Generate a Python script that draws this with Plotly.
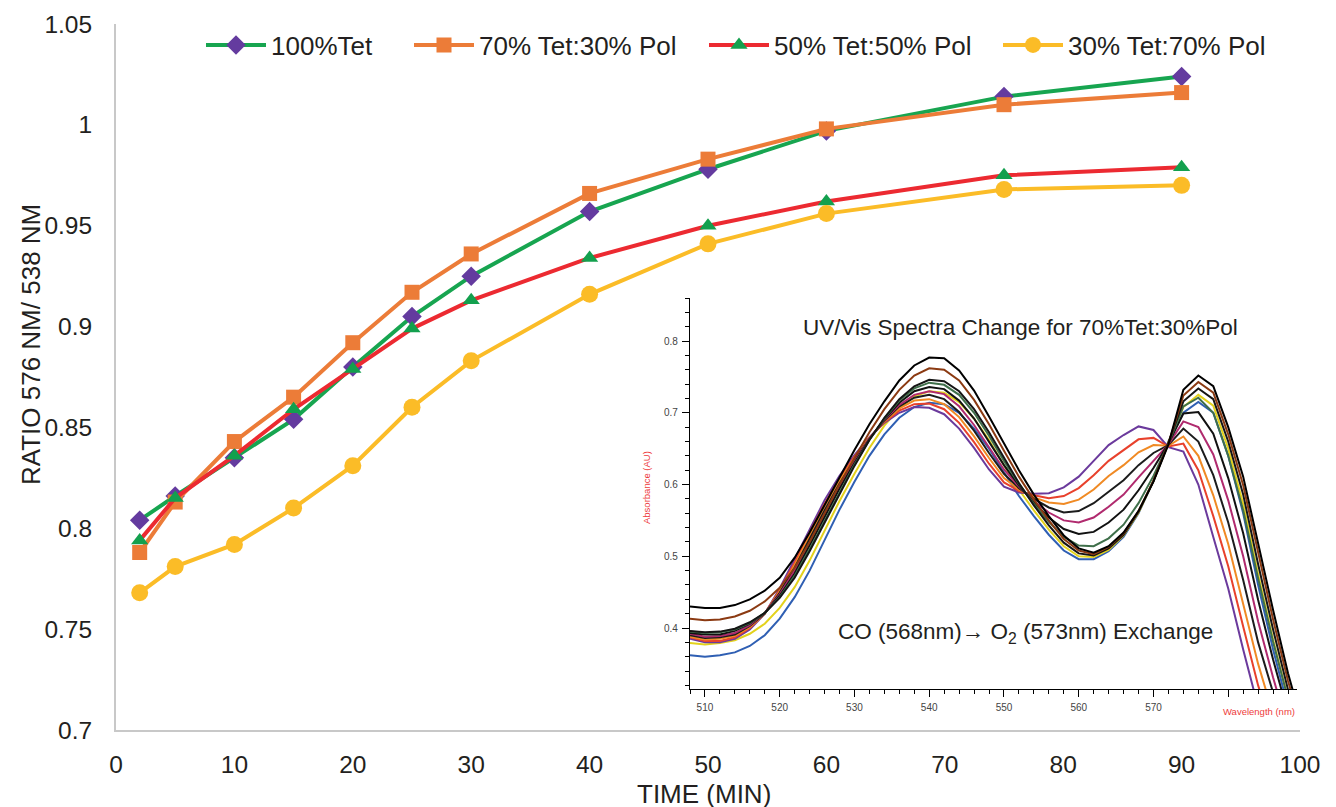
import plotly.graph_objects as go

# main chart: ratio 576/538 vs time
time_min = [2, 5, 10, 15, 20, 25, 30, 40, 50, 60, 75, 90]
tet100 = [0.804, 0.816, 0.835, 0.854, 0.880, 0.905, 0.925, 0.957, 0.978, 0.997, 1.014, 1.024]
tet70_pol30 = [0.788, 0.813, 0.843, 0.865, 0.892, 0.917, 0.936, 0.966, 0.983, 0.998, 1.010, 1.016]
tet50_pol50 = [0.794, 0.815, 0.836, 0.859, 0.879, 0.899, 0.913, 0.934, 0.950, 0.962, 0.975, 0.979]
tet30_pol70 = [0.768, 0.781, 0.792, 0.810, 0.831, 0.860, 0.883, 0.916, 0.941, 0.956, 0.968, 0.970]

x_ticks = [0, 10, 20, 30, 40, 50, 60, 70, 80, 90, 100]
y_ticks = [0.7, 0.75, 0.8, 0.85, 0.9, 0.95, 1.0, 1.05]
y_tick_text = ['0.7', '0.75', '0.8', '0.85', '0.9', '0.95', '1', '1.05']

# inset: UV/Vis spectra (absorbance vs wavelength)
wavelength = [508, 510, 512, 514, 516, 518, 520, 522, 524, 526, 528, 530, 532, 534,
              536, 538, 540, 542, 544, 546, 548, 550, 552, 554, 556, 558, 560, 562,
              564, 566, 568, 570, 572, 574, 576, 578, 580, 582, 584, 586, 588, 590]

spec_01 = [0.362, 0.360, 0.362, 0.366, 0.375, 0.390, 0.413, 0.443, 0.480, 0.522,
           0.565, 0.604, 0.640, 0.670, 0.693, 0.708, 0.714, 0.712, 0.700, 0.678,
           0.650, 0.617, 0.584, 0.556, 0.530, 0.508, 0.496, 0.496, 0.507, 0.527,
           0.560, 0.605, 0.660, 0.700, 0.715, 0.700, 0.640, 0.560, 0.460, 0.370,
           0.290, 0.230]
spec_02 = [0.379, 0.377, 0.379, 0.383, 0.392, 0.406, 0.428, 0.457, 0.494, 0.535,
           0.577, 0.615, 0.651, 0.682, 0.706, 0.723, 0.730, 0.728, 0.715, 0.692,
           0.662, 0.627, 0.593, 0.564, 0.537, 0.514, 0.500, 0.499, 0.509, 0.529,
           0.561, 0.605, 0.659, 0.708, 0.725, 0.710, 0.650, 0.573, 0.475, 0.384,
           0.302, 0.238]
spec_03 = [0.385, 0.380, 0.380, 0.385, 0.398, 0.420, 0.455, 0.495, 0.537, 0.578,
           0.612, 0.641, 0.666, 0.686, 0.700, 0.708, 0.707, 0.698, 0.678, 0.651,
           0.621, 0.597, 0.589, 0.587, 0.588, 0.596, 0.611, 0.633, 0.655, 0.669,
           0.681, 0.676, 0.652, 0.646, 0.600, 0.527, 0.455, 0.370, 0.290, 0.230,
           0.180, 0.140]
spec_04 = [0.387, 0.382, 0.382, 0.387, 0.400, 0.420, 0.453, 0.491, 0.533, 0.573,
           0.608, 0.639, 0.665, 0.687, 0.703, 0.712, 0.713, 0.705, 0.686, 0.659,
           0.629, 0.603, 0.591, 0.585, 0.581, 0.584, 0.595, 0.613, 0.633, 0.648,
           0.663, 0.665, 0.653, 0.657, 0.620, 0.556, 0.486, 0.402, 0.320, 0.255,
           0.200, 0.156]
spec_05 = [0.388, 0.384, 0.385, 0.389, 0.401, 0.420, 0.451, 0.488, 0.528, 0.569,
           0.605, 0.637, 0.665, 0.688, 0.706, 0.717, 0.719, 0.712, 0.694, 0.667,
           0.637, 0.609, 0.593, 0.582, 0.575, 0.573, 0.579, 0.593, 0.612, 0.627,
           0.645, 0.655, 0.654, 0.667, 0.640, 0.585, 0.517, 0.435, 0.350, 0.280,
           0.220, 0.172]
spec_06 = [0.390, 0.386, 0.387, 0.391, 0.403, 0.420, 0.449, 0.484, 0.524, 0.564,
           0.601, 0.634, 0.664, 0.689, 0.709, 0.721, 0.725, 0.719, 0.701, 0.675,
           0.644, 0.615, 0.595, 0.580, 0.568, 0.561, 0.563, 0.574, 0.590, 0.606,
           0.627, 0.644, 0.655, 0.678, 0.660, 0.613, 0.547, 0.467, 0.380, 0.306,
           0.240, 0.188]
spec_07 = [0.392, 0.388, 0.389, 0.393, 0.404, 0.421, 0.447, 0.480, 0.519, 0.559,
           0.598, 0.632, 0.664, 0.690, 0.711, 0.725, 0.730, 0.726, 0.709, 0.683,
           0.652, 0.621, 0.597, 0.577, 0.561, 0.550, 0.547, 0.554, 0.569, 0.586,
           0.610, 0.633, 0.656, 0.688, 0.680, 0.642, 0.578, 0.500, 0.409, 0.331,
           0.260, 0.204]
spec_08 = [0.393, 0.391, 0.391, 0.396, 0.406, 0.421, 0.445, 0.476, 0.515, 0.555,
           0.594, 0.630, 0.663, 0.691, 0.714, 0.730, 0.736, 0.733, 0.717, 0.692,
           0.660, 0.627, 0.599, 0.575, 0.554, 0.538, 0.531, 0.534, 0.547, 0.565,
           0.592, 0.623, 0.657, 0.699, 0.701, 0.671, 0.609, 0.532, 0.439, 0.356,
           0.281, 0.220]
spec_09 = [0.395, 0.393, 0.394, 0.398, 0.407, 0.421, 0.443, 0.473, 0.510, 0.550,
           0.590, 0.628, 0.662, 0.692, 0.717, 0.734, 0.742, 0.739, 0.725, 0.700,
           0.668, 0.633, 0.601, 0.573, 0.548, 0.527, 0.515, 0.514, 0.525, 0.544,
           0.574, 0.612, 0.657, 0.709, 0.721, 0.700, 0.640, 0.564, 0.469, 0.381,
           0.301, 0.235]
spec_10 = [0.396, 0.394, 0.395, 0.399, 0.408, 0.421, 0.442, 0.470, 0.507, 0.547,
           0.588, 0.626, 0.662, 0.693, 0.719, 0.737, 0.746, 0.744, 0.730, 0.705,
           0.673, 0.637, 0.602, 0.571, 0.543, 0.519, 0.504, 0.501, 0.511, 0.530,
           0.562, 0.605, 0.658, 0.716, 0.734, 0.719, 0.660, 0.586, 0.489, 0.398,
           0.314, 0.246]
spec_11 = [0.413, 0.411, 0.412, 0.416, 0.424, 0.437, 0.456, 0.484, 0.520, 0.560,
           0.600, 0.637, 0.673, 0.705, 0.732, 0.752, 0.762, 0.760, 0.745, 0.718,
           0.684, 0.647, 0.611, 0.579, 0.550, 0.524, 0.508, 0.503, 0.513, 0.532,
           0.563, 0.605, 0.657, 0.724, 0.743, 0.728, 0.670, 0.599, 0.504, 0.412,
           0.326, 0.254]
spec_12 = [0.430, 0.428, 0.428, 0.432, 0.440, 0.452, 0.470, 0.498, 0.533, 0.572,
           0.611, 0.648, 0.684, 0.716, 0.745, 0.766, 0.777, 0.776, 0.759, 0.731,
           0.695, 0.657, 0.620, 0.586, 0.556, 0.529, 0.511, 0.505, 0.514, 0.533,
           0.563, 0.604, 0.656, 0.732, 0.752, 0.737, 0.680, 0.611, 0.518, 0.425,
           0.337, 0.262]

spectra = [spec_01, spec_02, spec_03, spec_04, spec_05, spec_06,
           spec_07, spec_08, spec_09, spec_10, spec_11, spec_12]
spec_colors = ['#2f5fb3', '#e3d21c', '#6b3a9c', '#e8412c', '#f08a24', '#1c1c1c',
               '#b02a6e', '#111111', '#3f6f4a', '#151515', '#8b3a12', '#000000']

inset_x_ticks = [510, 520, 530, 540, 550, 560, 570, 580]
inset_x_text = ['510', '520', '530', '540', '550', '560', '570', ' ']
inset_y_ticks = [0.4, 0.5, 0.6, 0.7, 0.8]

FONT = 'Liberation Sans, Arial, sans-serif'
TXT = '#231f20'


def px_x(p):
    # screen pixel -> paper fraction of the main plot area
    return (p - 116) / 1184


def px_y(p):
    return (730 - p) / 706


fig = go.Figure()

# spectra in the inset
for ys, col in zip(spectra, spec_colors):
    fig.add_trace(go.Scatter(
        x=wavelength, y=ys, xaxis='x2', yaxis='y2',
        mode='lines', line=dict(color=col, width=2),
        showlegend=False, hoverinfo='skip'
    ))

# main series, each in its own legend so entries sit where the original has them
fig.add_trace(go.Scatter(
    x=time_min, y=tet100, name='100%Tet', mode='lines+markers', legend='legend',
    line=dict(color='#17a550', width=4),
    marker=dict(symbol='diamond', size=15, color='#643b9f')
))
fig.add_trace(go.Scatter(
    x=time_min, y=tet70_pol30, name='70% Tet:30% Pol', mode='lines+markers', legend='legend2',
    line=dict(color='#ec7c38', width=4),
    marker=dict(symbol='square', size=15, color='#ec7c38')
))
fig.add_trace(go.Scatter(
    x=time_min, y=tet50_pol50, name='50% Tet:50% Pol', mode='lines+markers', legend='legend3',
    line=dict(color='#ec2a31', width=4),
    marker=dict(symbol='triangle-up', size=15, color='#13a04e')
))
fig.add_trace(go.Scatter(
    x=time_min, y=tet30_pol70, name='30% Tet:70% Pol', mode='lines+markers', legend='legend4',
    line=dict(color='#fbbc27', width=4),
    marker=dict(symbol='circle', size=17, color='#fbbc27')
))

annots = [
    dict(x=px_x(704), y=px_y(794), text='TIME (MIN)', font=dict(size=26, color=TXT)),
    dict(x=px_x(31), y=px_y(345), text='RATIO 576 NM/ 538 NM', textangle=-90,
         font=dict(size=26, color=TXT)),
    dict(x=px_x(1020), y=px_y(327), text='UV/Vis Spectra Change for 70%Tet:30%Pol',
         font=dict(size=22.5, color=TXT)),
    dict(x=px_x(1025), y=px_y(633), text='CO (568nm)\u2192 O<sub>2</sub> (573nm) Exchange',
         font=dict(size=22.5, color=TXT)),
    dict(x=px_x(646), y=px_y(488), text='Absorbance (AU)', textangle=-90,
         font=dict(size=9.5, color='#ee3b3b')),
    dict(x=px_x(1259), y=px_y(711), text='Wavelength (nm)',
         font=dict(size=9.5, color='#ee3b3b')),
]
for a in annots:
    fig.add_annotation(xref='paper', yref='paper', showarrow=False,
                       xanchor='center', yanchor='middle', **a)

legend_style = dict(orientation='h', y=px_y(45), xanchor='left', yanchor='middle',
                    font=dict(size=26, color=TXT), bgcolor='rgba(0,0,0,0)',
                    itemwidth=60)

fig.update_layout(
    width=1328, height=807,
    margin=dict(l=108, r=36, t=16, b=85, autoexpand=False),
    plot_bgcolor='white', paper_bgcolor='white',
    font=dict(family=FONT, color=TXT),
    showlegend=True,
    legend=dict(x=px_x(201), **legend_style),
    legend2=dict(x=px_x(409), **legend_style),
    legend3=dict(x=px_x(704), **legend_style),
    legend4=dict(x=px_x(998), **legend_style),
    xaxis=dict(range=[0, 100], tickvals=x_ticks, showgrid=False, zeroline=False,
               showline=True, linecolor='#c8c8c8', linewidth=2, ticks='',
               tickfont=dict(size=24.5, color=TXT), ticklabelstandoff=12),
    yaxis=dict(range=[0.7, 1.05], tickvals=y_ticks, ticktext=y_tick_text,
               showgrid=False, zeroline=False, showline=True, linecolor='#c8c8c8',
               linewidth=2, ticks='', tickfont=dict(size=24.5, color=TXT),
               ticklabelstandoff=17),
    xaxis2=dict(domain=[px_x(690), px_x(1297)], anchor='y2', range=[508, 589.2],
                tickvals=inset_x_ticks, ticktext=inset_x_text,
                showgrid=False, zeroline=False, showline=True, linecolor='black',
                linewidth=1.2, ticks='outside', ticklen=7, tickcolor='black',
                minor=dict(dtick=2, ticks='outside', ticklen=4, tickcolor='black'),
                tickfont=dict(size=10, color='#444'), ticklabelstandoff=2),
    yaxis2=dict(domain=[px_y(689), px_y(298)], anchor='x2', range=[0.315, 0.86],
                tickvals=inset_y_ticks, showgrid=False, zeroline=False,
                showline=True, linecolor='black', linewidth=1.2,
                ticks='outside', ticklen=7, tickcolor='black',
                minor=dict(dtick=0.02, ticks='outside', ticklen=4, tickcolor='black'),
                tickfont=dict(size=10, color='#444'), ticklabelstandoff=2),
)

fig.write_html('out.html')
